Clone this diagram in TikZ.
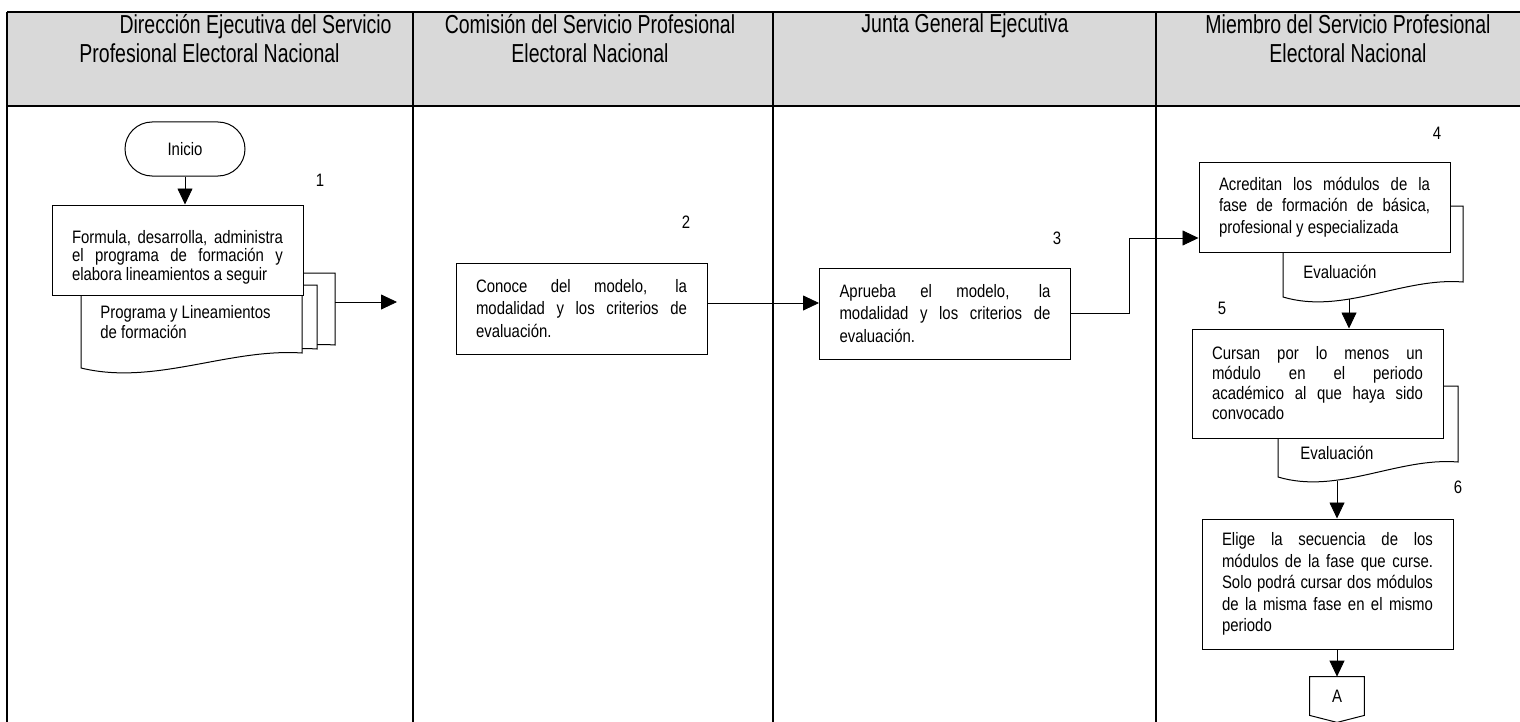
\documentclass[tikz,border=0pt]{standalone}
\usepackage{fontspec}
\setmainfont{Liberation Sans}[FakeStretch=0.83]
\newfontfamily\hdrfont{Liberation Sans}[FakeStretch=0.75]
\usepackage{tikz}
\usetikzlibrary{arrows.meta, positioning, calc}
\definecolor{hdrgray}{HTML}{D9D9D9}
% document symbol: left, top, right, bottom (wavy bottom edge)
\newcommand{\docshape}[4]{%
  \filldraw[fill=white, line width=0.5pt] (#1,#2) -- (#3,#2) -- (#3,#4-15)
    .. controls ({#1+(#3-#1)*2/3},#4-20) and ({#1+(#3-#1)/3},#4+18) .. (#1,#4) -- cycle;}

\begin{document}
\begin{tikzpicture}[x=0.5pt, y=-0.5pt, >={Triangle[length=8pt, width=7.5pt]},
      lane/.style={line width=0.75pt},
      hdr/.style={font=\hdrfont\fontsize{13}{14.5}\selectfont, inner sep=0pt, align=center},
      proc/.style={draw, fill=white, line width=0.5pt, text width=105.5pt,
                   inner xsep=10pt, inner ysep=0pt, align=justify,
                   font=\fontsize{9}{10.75}\selectfont},
      term/.style={draw, rounded corners=13.5pt, minimum width=60pt, minimum height=27pt,
                   line width=0.5pt, font=\fontsize{9}{10}\selectfont},
      num/.style={font=\fontsize{9}{10}\selectfont, inner sep=0pt},
      doctxt/.style={font=\fontsize{9}{10}\selectfont, inner sep=0pt, align=left, anchor=west},
      conn/.style={->, line width=0.4pt}]

    \useasboundingbox (0,0) rectangle (1520,722);

    % Swimlane table
    \fill[hdrgray] (7,12) rectangle (1520,106);
    \draw[lane] (7,12) -- (1520,12);
    \draw[lane] (7,106) -- (1520,106);
    \foreach \x in {7,413,773,1156}
        \draw[lane] (\x,12) -- (\x,722);

    \node[hdr, anchor=east, align=right] (h1) at (392,38.5)
        {Dirección Ejecutiva del Servicio\\Profesional Electoral Nacional\hspace*{26pt}};
    \node[hdr] (h2) at (590,38.5) {Comisión del Servicio Profesional\\Electoral Nacional};
    \node[hdr] (h3) at (965,26)   {Junta General Ejecutiva};
    \node[hdr] (h4) at (1348,38.5) {Miembro del Servicio Profesional\\Electoral Nacional};

    % Lane 1: start, activity 1 and its stacked documents
    \node[term] (ini) at (185,149) {Inicio};
    \node[num] (n1) at (320,180) {1};

    \docshape{114}{273}{335}{360}
    \docshape{97}{285}{317}{364}
    \docshape{81}{291}{302}{368}
    \node[doctxt] (d1t) at (100,322) {Programa y Lineamientos\\de formación};

    \node[proc, minimum height=45pt, text height=13.5pt,
          font=\fontsize{9}{9.25}\selectfont] (b1) at (177.5,250)
        {Formula, desarrolla, administra\linebreak el programa de formación y\linebreak
         elabora lineamientos a seguir};

    \coordinate (d1out) at (335,302);
    \coordinate (d1end) at (397,302);

    % Lane 2 and 3
    \node[num] (n2) at (686,222) {2};
    \node[proc, minimum height=45.5pt, font=\fontsize{9}{11.25}\selectfont] (b2) at (581.5,308.5)
        {Conoce del modelo, la\linebreak modalidad y los criterios de\linebreak evaluación.};

    \node[num] (n3) at (1057,238) {3};
    \node[proc, minimum height=45.5pt, font=\fontsize{9}{11.25}\selectfont] (b3) at (945,313.5)
        {Aprueba el modelo, la\linebreak modalidad y los criterios de\linebreak evaluación.};
    \coordinate (e34) at (1129,238);

    % Lane 4: activities 4 to 6
    \node[num] (n4) at (1437,133) {4};
    \docshape{1283}{206}{1463}{297}
    \node[doctxt] (ev4) at (1303,272) {Evaluación};
    \node[proc, minimum height=45pt] (b4) at (1324.5,207)
        {Acreditan los módulos de la\linebreak fase de formación de básica,\linebreak
         profesional y especializada};
    \coordinate (d4out) at (1349,299);

    \node[num] (n5) at (1222,308) {5};
    \docshape{1278}{386}{1458}{477}
    \node[doctxt] (ev5) at (1300,453) {Evaluación};
    \node[proc, minimum height=54.5pt, font=\fontsize{9}{10}\selectfont] (b5) at (1317.5,383.5)
        {Cursan por lo menos un\linebreak módulo en el periodo\linebreak
         académico al que haya sido\linebreak convocado};
    \coordinate (d5out) at (1337,481);

    \node[num] (n6) at (1458,487) {6};
    \node[proc, minimum height=65pt] (b6) at (1327.5,584)
        {Elige la secuencia de los\linebreak módulos de la fase que curse.\linebreak
         Solo podrá cursar dos módulos\linebreak de la misma fase en el mismo\linebreak periodo};

    % Off-page connector
    \node[minimum width=27pt, minimum height=19pt, inner sep=0pt,
          font=\fontsize{9}{10}\selectfont] (conA) at (1337,696) {A};
    \draw[line width=0.5pt] (conA.north west) -- (conA.north east) -- (conA.south east)
        -- ($(conA.south)+(0,7)$) -- (conA.south west) -- cycle;

    % Connectors
    \draw[conn] (ini.south) -- (ini.south |- b1.north);
    \draw[conn] (d1out) -- (d1end);
    \draw[conn] ([yshift=2.75pt]b2.east) -- ([yshift=2.75pt]b2.east -| b3.west);
    \draw[conn] (b3.east) -| (e34) -- (e34 -| b4.west);
    \draw[conn] (d4out) -- (d4out |- b5.north);
    \draw[conn] (d5out) -- (d5out |- b6.north);
    \draw[conn] (b6.south -| conA) -- (conA.north);

\end{tikzpicture}
\end{document}
